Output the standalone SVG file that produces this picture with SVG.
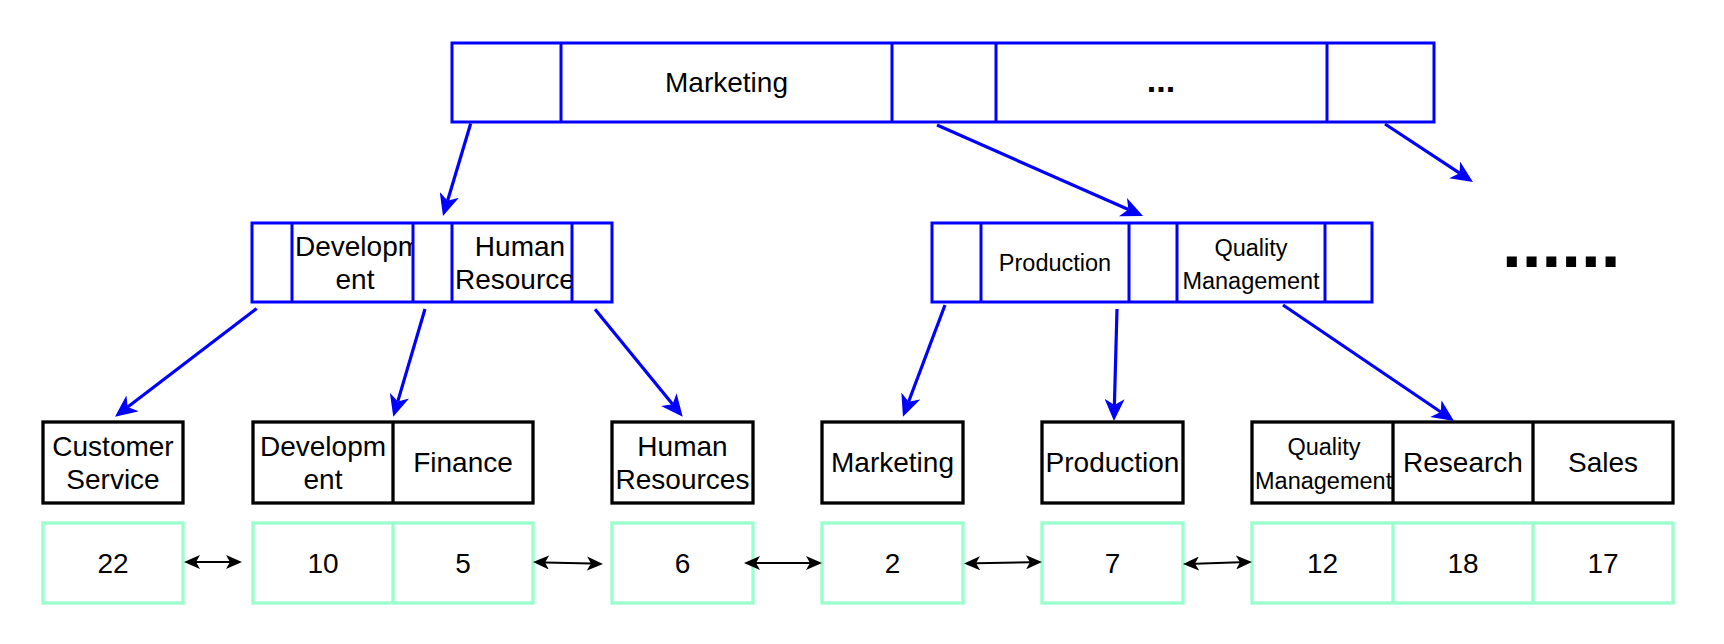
<svg xmlns="http://www.w3.org/2000/svg" width="1724" height="644" viewBox="0 0 1724 644">
<style>
text{font-family:"Liberation Sans",Arial,Helvetica,sans-serif;fill:#000}
.t28{font-size:28px}
.t23{font-size:23.5px}
.mid{text-anchor:middle}
.blue{fill:#fff;stroke:#0000FF;stroke-width:3}
.bl{fill:none;stroke:#0000FF;stroke-width:3}
.blk{fill:#fff;stroke:#000;stroke-width:3.3}
.bk{fill:none;stroke:#000;stroke-width:3.3}
.grn{fill:#fff;stroke:#99FFCC;stroke-width:3.3}
.gl{fill:none;stroke:#99FFCC;stroke-width:3.3}
.ca{fill:none;stroke:#0000FF;stroke-width:3.2;marker-end:url(#ab)}
.da{fill:none;stroke:#000;stroke-width:2;marker-start:url(#ak);marker-end:url(#ak)}
</style>
<defs>
<marker id="ab" viewBox="0 0 22 20" refX="6" refY="10" markerWidth="22" markerHeight="20" markerUnits="userSpaceOnUse" orient="auto"><path d="M0,0 L22,10 L0,20 L6,10 Z" fill="#0000FF"/></marker>
<marker id="ak" viewBox="0 0 16 14" refX="4" refY="7" markerWidth="16" markerHeight="14" markerUnits="userSpaceOnUse" orient="auto-start-reverse"><path d="M0,0 L16,7 L0,14 L4,7 Z" fill="#000"/></marker>
<clipPath id="c1"><rect x="293" y="224" width="119" height="77"/></clipPath>
<clipPath id="c2"><rect x="453" y="224" width="118" height="77"/></clipPath>
<clipPath id="c3"><rect x="1253" y="423" width="139" height="79"/></clipPath>
</defs>

<g id="top-bar">
<rect class="blue" x="452" y="43" width="982" height="79"/>
<path class="bl" d="M561,43V122M892,43V122M996,43V122M1327,43V122"/>
<text class="t28 mid" x="726.5" y="92">Marketing</text>
<text class="mid" x="1161" y="92" font-size="34" font-weight="bold">...</text>
</g>

<g id="mid-left">
<rect class="blue" x="252" y="223" width="360" height="79"/>
<path class="bl" d="M292,223V302M413,223V302M452,223V302M572,223V302"/>
<g clip-path="url(#c1)">
<text class="t28" x="295" y="256">Developm</text>
<text class="t28 mid" x="355" y="289">ent</text>
</g>
<g clip-path="url(#c2)">
<text class="t28 mid" x="520" y="256">Human</text>
<text class="t28" x="455" y="289">Resources</text>
</g>
</g>

<g id="mid-right">
<rect class="blue" x="932" y="223" width="440" height="79"/>
<path class="bl" d="M981,223V302M1129,223V302M1177,223V302M1325,223V302"/>
<text class="t23 mid" x="1055" y="271">Production</text>
<text class="t23 mid" x="1251" y="256">Quality</text>
<text class="t23 mid" x="1251" y="289">Management</text>
</g>

<g id="more">
<text x="1502" y="267" font-size="71" font-weight="bold">......</text>
</g>

<g id="node-customer-service">
<rect class="blk" x="43" y="422" width="140" height="81"/>
<text class="t28 mid" x="113" y="456">Customer</text>
<text class="t28 mid" x="113" y="489">Service</text>
</g>
<g id="node-dev-finance">
<rect class="blk" x="253" y="422" width="280" height="81"/>
<path class="bk" d="M393,422V503"/>
<text class="t28 mid" x="323" y="456">Developm</text>
<text class="t28 mid" x="323" y="489">ent</text>
<text class="t28 mid" x="463" y="472">Finance</text>
</g>
<g id="node-human-resources">
<rect class="blk" x="612" y="422" width="141" height="81"/>
<text class="t28 mid" x="682.5" y="456">Human</text>
<text class="t28 mid" x="682.5" y="489">Resources</text>
</g>
<g id="node-marketing">
<rect class="blk" x="822" y="422" width="141" height="81"/>
<text class="t28 mid" x="892.5" y="472">Marketing</text>
</g>
<g id="node-production">
<rect class="blk" x="1042" y="422" width="141" height="81"/>
<text class="t28 mid" x="1112.5" y="472">Production</text>
</g>
<g id="node-qm-research-sales">
<rect class="blk" x="1252" y="422" width="421" height="81"/>
<path class="bk" d="M1393,422V503M1533,422V503"/>
<text class="t23 mid" x="1324" y="455">Quality</text>
<g clip-path="url(#c3)"><text class="t23" x="1255" y="489">Management</text></g>
<text class="t28 mid" x="1463" y="472">Research</text>
<text class="t28 mid" x="1603" y="472">Sales</text>
</g>

<g id="count-22">
<rect class="grn" x="43" y="523" width="140" height="80"/>
<text class="t28 mid" x="113" y="573">22</text>
</g>
<g id="count-10-5">
<rect class="grn" x="253" y="523" width="280" height="80"/>
<path class="gl" d="M393,523V603"/>
<text class="t28 mid" x="323" y="573">10</text>
<text class="t28 mid" x="463" y="573">5</text>
</g>
<g id="count-6">
<rect class="grn" x="612" y="523" width="141" height="80"/>
<text class="t28 mid" x="682.5" y="573">6</text>
</g>
<g id="count-2">
<rect class="grn" x="822" y="523" width="141" height="80"/>
<text class="t28 mid" x="892.5" y="573">2</text>
</g>
<g id="count-7">
<rect class="grn" x="1042" y="523" width="141" height="80"/>
<text class="t28 mid" x="1112.5" y="573">7</text>
</g>
<g id="count-12-18-17">
<rect class="grn" x="1252" y="523" width="421" height="80"/>
<path class="gl" d="M1393,523V603M1533,523V603"/>
<text class="t28 mid" x="1322.5" y="573">12</text>
<text class="t28 mid" x="1463" y="573">18</text>
<text class="t28 mid" x="1603" y="573">17</text>
</g>

<g id="connectors">
<path class="ca" d="M470.7,123.5L447.6,200.7"/>
<path class="ca" d="M937,125L1128.4,209.5"/>
<path class="ca" d="M1385,124L1459.6,173.2"/>
<path class="ca" d="M256.7,308.5L127.7,407"/>
<path class="ca" d="M425,309L397.8,401.4"/>
<path class="ca" d="M595,309.3L672.6,404.3"/>
<path class="ca" d="M945,305L908.6,401.7"/>
<path class="ca" d="M1117,309L1114.4,405"/>
<path class="ca" d="M1283,305L1440.8,412"/>
<path class="da" d="M196,562L230,562"/>
<path class="da" d="M545,562.4L591,563.6"/>
<path class="da" d="M756,563L810,563"/>
<path class="da" d="M976,563.3L1030,562.2"/>
<path class="da" d="M1195,563.7L1240,562.3"/>
</g>
</svg>
